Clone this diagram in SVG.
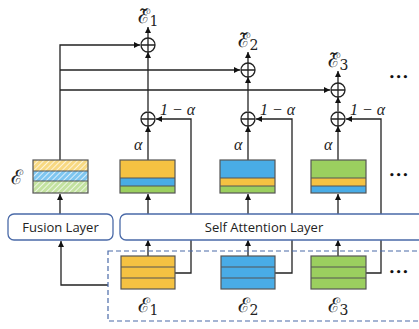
<svg xmlns="http://www.w3.org/2000/svg" width="419" height="329" viewBox="0 0 419 329">
<defs>
<marker id="ah" viewBox="0 0 10 10" refX="10" refY="5" markerWidth="6" markerHeight="6" orient="auto" markerUnits="userSpaceOnUse">
<path d="M0,0 L10,5 L0,10 z" fill="#111"/>
</marker>
<pattern id="hy" patternUnits="userSpaceOnUse" width="4" height="4" patternTransform="rotate(45)">
<rect width="4" height="4" fill="#F8D982"/><line x1="0" y1="0" x2="0" y2="4" stroke="#fff" stroke-width="1.4"/>
</pattern>
<pattern id="hb" patternUnits="userSpaceOnUse" width="4" height="4" patternTransform="rotate(45)">
<rect width="4" height="4" fill="#7EC6F0"/><line x1="0" y1="0" x2="0" y2="4" stroke="#fff" stroke-width="1.4"/>
</pattern>
<pattern id="hg" patternUnits="userSpaceOnUse" width="4" height="4" patternTransform="rotate(45)">
<rect width="4" height="4" fill="#C3E2A0"/><line x1="0" y1="0" x2="0" y2="4" stroke="#fff" stroke-width="1.4"/>
</pattern>
</defs>
<style>
.ln{fill:none;stroke:#222;stroke-width:1.3}
.ar{marker-end:url(#ah)}
.bx{stroke:#555;stroke-width:1.2}
.y{fill:#F5C242}.b{fill:#49ACE6}.g{fill:#9BCF5F}
.layer{fill:#fff;stroke:#4A6AA8;stroke-width:1.3}
.lt{font-family:"Open Sans","Noto Sans",sans-serif;font-size:13px;fill:#222}
.m{font-family:"DejaVu Serif",serif;fill:#222}
.mi{font-family:"Liberation Serif",serif;font-style:italic;fill:#222;font-size:16px}
.dots{font-family:"DejaVu Sans",sans-serif;font-size:9px;font-weight:bold;fill:#111;letter-spacing:1px}
.op{fill:#fff;stroke:#222;stroke-width:1.3}
</style>
<g id="connectors">
<path class="ln ar" d="M108,285 H61 V241"/>
<path class="ln ar" d="M60,160 V45 H140"/>
<path class="ln ar" d="M60,70 H240"/>
<path class="ln ar" d="M60,90 H330"/>
<path class="ln ar" d="M60,214 V194"/>
<path class="ln ar" d="M148,256 V240"/>
<path class="ln ar" d="M148,214 V194"/>
<path class="ln ar" d="M148,160 V126"/>
<path class="ln ar" d="M148,111 V52"/>
<path class="ln ar" d="M148,38 V27"/>
<path class="ln ar" d="M175,273 H191 V119 H156"/>
<path class="ln ar" d="M248,256 V240"/>
<path class="ln ar" d="M248,214 V194"/>
<path class="ln ar" d="M248,160 V126"/>
<path class="ln ar" d="M248,111 V77"/>
<path class="ln ar" d="M248,63 V52"/>
<path class="ln ar" d="M275,273 H292 V119 H256"/>
<path class="ln ar" d="M338,256 V240"/>
<path class="ln ar" d="M338,214 V194"/>
<path class="ln ar" d="M338,160 V126"/>
<path class="ln ar" d="M338,111 V97"/>
<path class="ln ar" d="M338,83 V71"/>
<path class="ln ar" d="M366,273 H381 V119 H346"/>
</g>
<g id="input-group">
<rect x="108" y="251" width="320" height="70" fill="none" stroke="#4A6AA8" stroke-width="1.2" stroke-dasharray="5,3"/>
</g>
<g id="fusion-layer">
<rect class="layer" x="8" y="214" width="105" height="26" rx="6"/>
<text class="lt" x="60.5" y="232" text-anchor="middle">Fusion Layer</text>
</g>
<g id="self-attention-layer">
<rect class="layer" x="120" y="214" width="310" height="26" rx="6"/>
<text class="lt" x="264" y="232" text-anchor="middle">Self Attention Layer</text>
</g>
<g id="fused">
<rect x="33" y="160" width="55" height="11" fill="url(#hy)"/>
<rect x="33" y="171" width="55" height="10" fill="url(#hb)"/>
<rect x="33" y="181" width="55" height="12" fill="url(#hg)"/>
<path d="M33,171 H88 M33,181 H88" stroke="#555" stroke-width="1.2"/>
<rect x="33" y="160" width="55" height="33" fill="none" class="bx"/>
<text class="m" x="17" y="184" font-size="20" text-anchor="middle">ℰ</text>
</g>
<g id="out1">
<rect class="y" x="120" y="160" width="55" height="18"/>
<rect class="b" x="120" y="178" width="55" height="8"/>
<rect class="g" x="120" y="186" width="55" height="7"/>
<path d="M120,178 H175 M120,186 H175" stroke="#555" stroke-width="1"/>
<rect x="120" y="160" width="55" height="33" fill="none" class="bx"/>
</g>
<g id="out2">
<rect class="b" x="220" y="160" width="55" height="18"/>
<rect class="y" x="220" y="178" width="55" height="8"/>
<rect class="g" x="220" y="186" width="55" height="7"/>
<path d="M220,178 H275 M220,186 H275" stroke="#555" stroke-width="1"/>
<rect x="220" y="160" width="55" height="33" fill="none" class="bx"/>
</g>
<g id="out3">
<rect class="g" x="311" y="160" width="55" height="18"/>
<rect class="y" x="311" y="178" width="55" height="8"/>
<rect class="b" x="311" y="186" width="55" height="7"/>
<path d="M311,178 H366 M311,186 H366" stroke="#555" stroke-width="1"/>
<rect x="311" y="160" width="55" height="33" fill="none" class="bx"/>
</g>
<g id="in1">
<rect class="y bx" x="121" y="256" width="54" height="33"/>
<path d="M121,267 H175 M121,278 H175" stroke="#555" stroke-width="1"/>
<text class="m" x="148" y="312" font-size="20" text-anchor="middle">ℰ<tspan font-size="14" dy="3">1</tspan></text>
</g>
<g id="in2">
<rect class="b bx" x="221" y="256" width="54" height="33"/>
<path d="M221,267 H275 M221,278 H275" stroke="#555" stroke-width="1"/>
<text class="m" x="248" y="312" font-size="20" text-anchor="middle">ℰ<tspan font-size="14" dy="3">2</tspan></text>
</g>
<g id="in3">
<rect class="g bx" x="311" y="256" width="55" height="33"/>
<path d="M311,267 H366 M311,278 H366" stroke="#555" stroke-width="1"/>
<text class="m" x="338" y="312" font-size="20" text-anchor="middle">ℰ<tspan font-size="14" dy="3">3</tspan></text>
</g>
<g id="add1a"><circle class="op" cx="148" cy="119" r="7"/><path d="M141,119 H155 M148,112 V126" class="ln"/>
<text class="mi" x="160" y="115">1 − α</text><text class="mi" x="134" y="150">α</text></g>
<g id="add2a"><circle class="op" cx="248" cy="119" r="7"/><path d="M241,119 H255 M248,112 V126" class="ln"/>
<text class="mi" x="260" y="115">1 − α</text><text class="mi" x="234" y="150">α</text></g>
<g id="add3a"><circle class="op" cx="338" cy="119" r="7"/><path d="M331,119 H345 M338,112 V126" class="ln"/>
<text class="mi" x="350" y="115">1 − α</text><text class="mi" x="324" y="150">α</text></g>
<g id="add1b"><circle class="op" cx="148" cy="45" r="7"/><path d="M141,45 H155 M148,38 V52" class="ln"/>
<text class="m" x="148" y="23" font-size="20" text-anchor="middle">ℰ&#x303;<tspan font-size="14" dy="3">1</tspan></text></g>
<g id="add2b"><circle class="op" cx="248" cy="70" r="7"/><path d="M241,70 H255 M248,63 V77" class="ln"/>
<text class="m" x="248" y="47" font-size="20" text-anchor="middle">ℰ&#x303;<tspan font-size="14" dy="3">2</tspan></text></g>
<g id="add3b"><circle class="op" cx="338" cy="90" r="7"/><path d="M331,90 H345 M338,83 V97" class="ln"/>
<text class="m" x="338" y="67" font-size="20" text-anchor="middle">ℰ&#x303;<tspan font-size="14" dy="3">3</tspan></text></g>
<g id="ellipses">
<text class="dots" x="389" y="80">•••</text>
<text class="dots" x="389" y="178">•••</text>
<text class="dots" x="389" y="275">•••</text>
</g>
</svg>
